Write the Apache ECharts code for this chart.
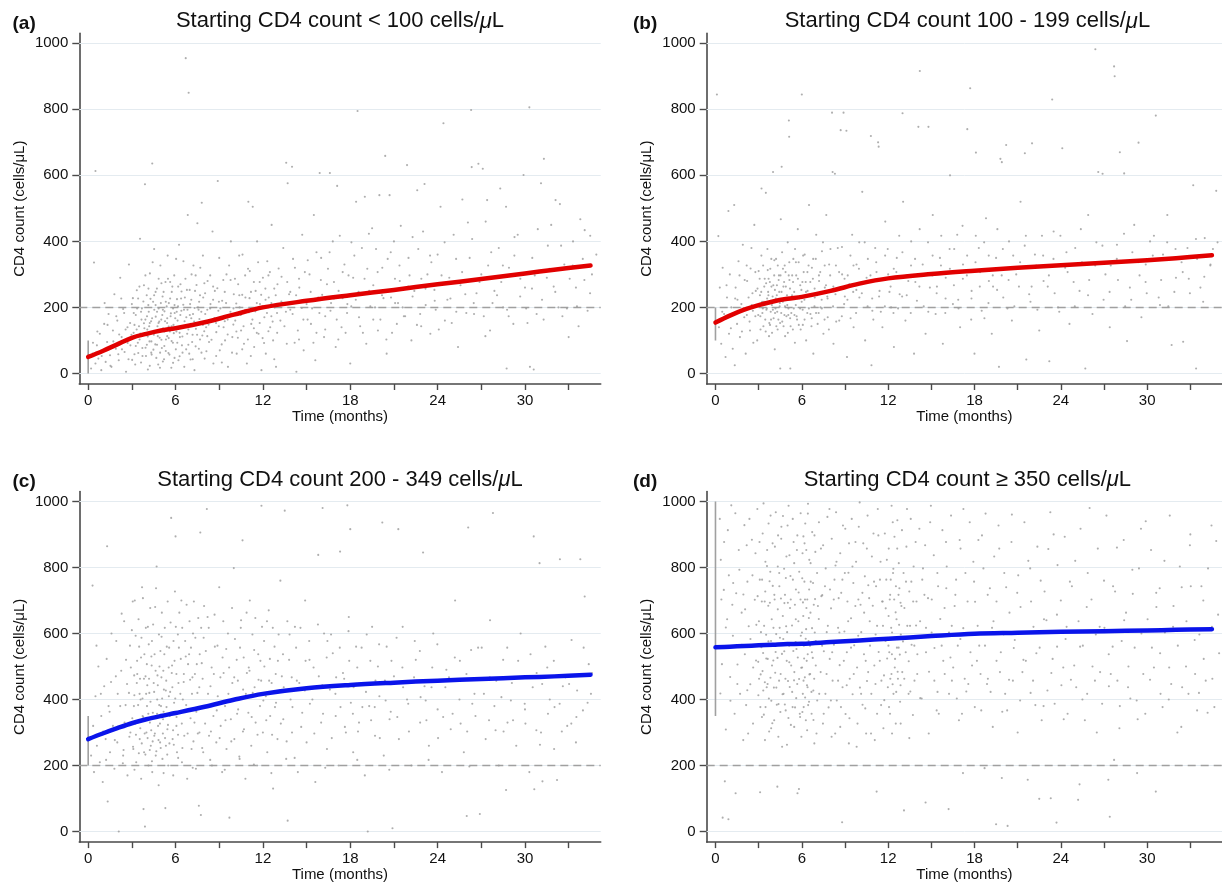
<!DOCTYPE html>
<html>
<head>
<meta charset="utf-8">
<script src="https://cdn.jsdelivr.net/npm/echarts@6/dist/echarts.min.js"></script>
<style>html,body{margin:0;padding:0;background:#fff}#c{width:1222px;height:884px}</style>
</head>
<body>
<div id="c"></div>
<script>
// ---------- DATA ----------
const panelLabels = ['(a)', '(b)', '(c)', '(d)'];
const titleHead = ['Starting CD4 count < 100 cells/', 'Starting CD4 count 100 - 199 cells/', 'Starting CD4 count 200 - 349 cells/', 'Starting CD4 count \u2265 350 cells/'];
const xTickLabels = [0, 6, 12, 18, 24, 30];
const xTickMarks = [0, 3, 6, 9, 12, 15, 18, 21, 24, 27, 30, 33];
const yTickLabels = [0, 200, 400, 600, 800, 1000];
const threshold = 200;
const baselineRanges = [[0, 100], [100, 200], [200, 350], [350, 1000]];

const fitMonths = [0, 1, 2, 3, 4, 5, 6, 8, 10, 12, 15, 18, 21, 24, 27, 30, 32, 34.5];
const fitA = [50, 68, 88, 108, 120, 130, 137, 155, 178, 200, 220, 237, 253, 270, 286, 303, 314, 327];
const fitB = [154, 175, 193, 207, 218, 226, 232, 250, 272, 288, 301, 311, 320, 328, 335, 343, 349, 358];
const fitC = [280, 297, 313, 328, 340, 350, 359, 378, 399, 417, 434, 444, 451, 457, 462, 467, 470, 475];
const fitD = [558, 560, 562, 564, 566, 568, 569, 574, 579, 584, 592, 599, 602, 605, 607, 609, 611, 613];

const pointsA = [[0.2,15],[0.3,60],[0.4,336],[0.5,613],[0.5,30],[0.6,85],[0.7,45],[0.8,120],[0.9,10],[1.0,70],[1.1,150],[1.2,35],[1.3,95],[1.4,180],[1.5,55],[1.6,20],[1.7,130],[1.8,240],[1.9,75],[2.0,160],[2.1,40],[2.2,290],[2.3,110],[2.4,195],[2.5,65],[2.6,5],[2.7,140],[2.8,330],[2.9,85],[3.0,210],
[3.12,123],[3.18,58],[3.27,177],[3.34,252],[3.41,93],[3.49,143],[3.56,408],[3.63,33],[3.69,197],[3.77,117],[3.83,152],[3.9,573],[3.94,78],[4.02,237],[4.06,133],[4.1,12],[4.16,187],[4.21,97],[4.24,303],[4.32,158],[4.36,57],[4.4,636],[4.46,217],[4.51,117],[4.53,377],[4.61,88],[4.64,172],[4.72,257],[4.76,143],[4.81,27],[4.84,197],[4.91,108],[4.96,327],[5.02,163],[5.06,77],[5.11,233],[5.14,137],[5.21,43],[5.24,188],[5.31,277],[5.34,103],[5.42,153],[5.46,357],[5.51,62],[5.54,213],[5.61,127],[5.66,173],[5.71,17],[5.74,247],[5.82,93],[5.86,147],[5.91,297],[5.94,183],[6.02,73],[6.06,127],
[6.1,225],[6.14,160],[6.2,40],[6.24,390],[6.3,110],[6.34,270],[6.4,190],[6.44,85],[6.5,140],[6.54,340],[6.6,20],[6.64,230],[6.7,955],[6.74,170],[6.8,120],[6.84,480],[6.9,850],[6.94,60],[7.0,210],[7.04,150],[7.1,300],[7.14,95],[7.2,180],[7.3,10],[7.34,250],[7.4,135],[7.5,455],[7.54,200],[7.6,75],[7.64,165],[7.7,320],[7.8,517],[7.84,115],[7.9,230],[8.0,45],[8.04,180],[8.1,140],[8.2,280],[8.3,95],[8.4,210],[8.5,160],[8.54,430],[8.6,30],[8.7,250],[8.8,125],[8.9,583],[8.94,190],[9.0,350],[9.04,70],
[9.2,220],[9.3,140],[9.4,100],[9.5,300],[9.6,20],[9.7,175],[9.8,400],[9.9,110],[10.0,240],[10.1,160],[10.2,60],[10.3,270],[10.4,200],[10.5,130],[10.6,360],[10.7,90],[10.8,230],[10.9,30],[11.0,520],[11.04,185],[11.1,310],[11.2,150],[11.3,505],[11.4,80],[11.5,250],[11.6,400],[11.7,120],[11.8,210],[11.9,10],[12.0,290],[12.1,170],[12.2,60],[12.3,340],[12.4,230],[12.5,140],[12.6,450],[12.7,100],[12.8,200],[12.9,20],[13.0,270],
[13.2,160],[13.4,380],[13.6,638],[13.64,90],[13.7,576],[13.8,240],[14.0,626],[14.04,180],[14.2,320],[14.3,5],[14.4,130],[14.5,260],[14.7,420],[14.8,70],[15.0,210],[15.2,300],[15.3,150],[15.5,480],[15.6,40],[15.8,230],[15.9,607],[16.0,350],[16.2,110],[16.4,270],[16.6,607],[16.64,190],[16.8,400],[17.0,80],[17.1,568],[17.2,250],[17.4,140],[17.6,330],[17.8,210],[18.0,30],
[18.2,290],[18.4,520],[18.5,795],[18.6,170],[18.8,380],[19.0,535],[19.1,90],[19.3,250],[19.5,440],[19.7,200],[19.9,130],[20.0,540],[20.2,320],[20.4,659],[20.5,60],[20.7,540],[20.8,230],[21.0,400],[21.2,150],[21.4,280],[21.6,200],[21.9,631],[22.0,350],[22.2,100],[22.4,250],[22.6,555],[22.8,180],[23.0,430],[23.1,574],[23.3,300],[23.5,120],[23.8,220],[24.0,360],
[24.2,505],[24.4,758],[24.5,160],[24.8,290],[25.1,420],[25.4,80],[25.7,527],[25.9,240],[26.2,350],[26.3,798],[26.34,625],[26.5,180],[26.8,635],[27.0,300],[27.1,620],[27.3,460],[27.4,525],[27.6,130],[27.9,250],[28.2,380],[28.3,560],[28.5,200],[28.7,505],[28.74,15],[28.9,320],[29.2,150],[29.5,420],[29.9,601],[30.0,260],[30.3,806],[30.34,20],[30.5,350],[30.6,12],[30.8,180],[31.1,576],[31.3,650],[31.5,290],[31.8,450],[32.1,525],[32.3,200],[32.4,513],[32.7,330],[33.0,110],[33.3,400],[33.5,260],[33.8,467],[34.1,434],[34.3,190],[34.6,300],[34.9,360]];

const pointsA2 = [[2.13,118],[2.32,73],[2.47,183],[2.71,92],[2.88,153],[3.02,41],[3.07,228],[3.18,147],[3.27,83],[3.36,197],[3.44,62],[3.52,263],[3.58,121],[3.66,163],[3.72,77],[3.79,218],[3.86,137],[3.93,297],[3.97,53],[4.04,173],[4.09,112],[4.14,257],[4.19,143],[4.23,23],[4.28,226],[4.34,97],[4.39,167],[4.43,337],[4.48,72],[4.54,193],[4.59,128],[4.63,247],[4.68,47],[4.73,187],[4.78,113],[4.84,287],[4.88,157],[4.94,63],[4.99,213],[5.03,102],[5.09,177],[5.13,36],[5.18,247],[5.23,127],[5.28,158],[5.33,68],[5.39,203],[5.43,113],[5.48,287],[5.53,142],[5.58,57],[5.63,227],[5.68,182],[5.73,98],[5.78,263],[5.83,32],[5.88,122],[5.93,207],[5.98,167],[6.04,347],[6.12,93],[6.17,203],[6.23,138],[6.28,52],[6.33,177],[6.41,248],[6.47,112],[6.53,208],[6.62,158],[6.68,287],[6.73,73],[6.82,193],[6.88,133],[6.97,253],[7.03,42],[7.08,167],[7.17,117],[7.23,327],[7.31,198],[7.38,82],[7.44,268],[7.52,152],[7.62,217],[7.68,103],[7.77,187],[7.88,357],[7.97,128],[8.03,243],[8.12,67],[8.18,193],[8.27,148],[8.38,297],[8.47,102],[8.58,223],[8.68,168],[8.79,53],[8.87,258],[8.97,143],[9.08,197],[9.17,88],[9.28,283],[9.38,158],[9.47,213],[9.58,118],[9.68,327],[9.77,187],[9.88,63],[9.97,148],[10.08,287],[10.17,212],[10.28,108],[10.37,357],[10.48,177],[10.58,238],[10.67,143],[10.78,297],[10.88,193],[10.97,103],[11.08,228],[11.17,53],[11.28,163],[11.38,277],[11.48,188],[11.58,123],[11.67,337],[11.78,153],[11.88,238],[11.97,203],[12.08,92],[12.17,257],[12.28,183],[12.38,128],[12.48,307],[12.58,213],[12.67,157],[12.78,43],[12.88,237],[12.97,183],[13.08,318],[13.27,218],[13.48,143],[13.67,277],[13.88,193],[14.07,347],[14.28,237],[14.48,103],[14.67,198],[14.88,307],[15.07,163],[15.28,247],[15.47,93],[15.68,367],[15.88,183],[16.07,238],[16.28,133],[16.47,317],[16.68,213],[16.88,277],[17.07,163],[17.28,417],[17.47,228],[17.68,123],[17.88,297],[18.07,203],[18.28,357],[18.57,247],[18.87,123],[19.17,317],[19.38,203],[19.58,267],[19.77,377],[20.07,163],[20.28,228],[20.57,347],[20.87,123],[21.07,287],[21.28,213],[21.47,447],[21.77,173],[22.07,297],[22.28,233],[22.67,377],[22.87,143],[23.17,257],[23.57,337],[23.87,193],[24.27,297],[24.67,223],[24.97,153],[25.27,347],[25.57,267],[25.97,183],[26.37,407],[26.67,243],[27.17,173],[27.47,327],[27.77,213],[28.37,277],[28.77,193],[29.27,357],[29.67,233],[30.17,153],[30.67,297],[31.17,223],[31.57,387],[31.97,263],[32.57,173],[33.07,287],[33.57,203],[33.97,347],[34.47,243]];

const pointsA3 = [[0.33,93],[0.63,127],[0.93,53],[1.13,213],[1.33,147],[1.53,23],[1.73,97],[1.93,173],[2.07,58],[2.27,227],[2.57,133],[2.77,43],[2.97,117],[3.13,183],[3.23,27],[3.33,133],[3.43,227],[3.53,103],[3.63,187],[3.73,53],[3.83,267],[3.93,163],[4.03,87],[4.13,207],[4.23,153],[4.33,63],[4.43,123],[4.53,237],[4.63,207],[4.73,87],[4.83,153],[4.93,17],[5.03,273],[5.13,193],[5.23,83],[5.33,217],[5.43,167],[5.53,107],[5.63,277],[5.73,143],[5.83,197],[5.93,47],[6.08,187],[6.18,263],[6.28,123],[6.38,227],[6.48,63],[6.58,193],[6.68,143],[6.78,253],[6.88,87],[6.98,177],[7.08,223],[7.18,43],[7.28,157],[7.38,297],[7.48,117],[7.58,193],[7.68,237],[7.78,63],[7.88,147],[7.98,273],[8.18,113],[8.38,197],[8.58,263],[8.78,153],[8.98,217],[9.18,33],[9.38,247],[9.58,163],[9.78,283],[9.98,197],[10.18,127],[10.38,237],[10.58,73],[10.78,193],[10.98,317],[11.18,247],[11.38,137],[11.58,213],[11.78,277],[11.98,107],[12.18,223],[12.38,297],[12.58,173],[12.78,257],[12.98,123],[13.28,293],[13.58,187],[13.88,247],[14.18,93],[14.48,287],[14.78,163],[15.08,343],[15.38,197],[15.68,123],[15.98,283],[16.28,173],[16.58,367],[16.88,227],[17.18,103],[17.48,307],[17.78,183],[18.08,397],[18.38,223],[18.68,143],[18.98,287],[19.28,423],[19.58,163],[19.88,307],[20.18,237],[20.48,103],[20.78,367],[21.08,213],[21.38,327],[21.68,173],[21.98,263],[22.28,413],[22.58,147],[22.88,287],[23.18,207],[23.48,357],[23.78,253],[24.08,133],[24.48,397],[24.88,227],[25.28,187],[25.68,307],[26.08,457],[26.48,213],[26.88,277],[27.28,113],[27.68,367],[28.08,237],[28.48,327],[28.88,173],[29.28,413],[29.68,287],[30.08,197],[30.48,257],[30.88,437],[31.28,163],[31.68,317],[32.08,247],[32.48,387],[32.88,197],[33.28,327],[33.68,143],[34.08,283],[34.48,417]];

const pointsB = [[0.1,845],[0.2,416],[0.24,140],[0.3,260],[0.4,90],[0.5,320],[0.6,180],[0.7,50],[0.8,230],[0.9,492],[0.94,120],[1.0,300],[1.1,200],[1.2,75],[1.3,510],[1.34,25],[1.4,260],[1.5,150],[1.6,340],[1.7,110],[1.8,210],[1.9,390],[2.0,170],[2.1,60],[2.2,280],[2.3,230],[2.4,130],[2.5,380],[2.6,190],[2.7,450],[2.8,250],[2.9,100],[3.0,310],
[3.12,173],[3.2,560],[3.24,217],[3.33,143],[3.42,287],[3.5,547],[3.54,193],[3.61,377],[3.66,247],[3.72,113],[3.81,317],[3.86,163],[3.92,207],[4.0,610],[4.02,267],[4.12,73],[4.14,183],[4.21,347],[4.26,237],[4.32,133],[4.41,297],[4.46,203],[4.5,15],[4.54,467],[4.6,626],[4.64,157],[4.72,263],[4.81,327],[4.84,113],[4.92,223],[5.02,397],[5.06,177],[5.1,766],[5.12,717],[5.14,283],[5.2,15],[5.22,143],[5.32,237],[5.41,347],[5.44,197],[5.52,93],[5.61,297],[5.64,173],[5.72,437],[5.81,227],[5.92,133],[6.0,845],[6.04,277],[6.06,193],
[6.2,360],[6.3,100],[6.4,250],[6.5,510],[6.6,180],[6.7,320],[6.8,60],[6.9,230],[7.0,420],[7.1,150],[7.2,280],[7.3,200],[7.4,370],[7.5,120],[7.6,260],[7.7,480],[7.8,170],[7.9,330],[8.1,790],[8.14,610],[8.2,90],[8.3,605],[8.34,240],[8.5,380],[8.6,160],[8.7,737],[8.8,300],[8.9,790],[8.94,210],[9.1,735],[9.14,50],[9.3,270],[9.5,420],[9.6,140],[9.8,330],[10.0,230],
[10.2,550],[10.4,100],[10.5,290],[10.8,719],[10.84,25],[10.9,190],[11.1,380],[11.3,700],[11.34,687],[11.4,250],[11.6,140],[11.8,460],[12.0,300],[12.2,200],[12.4,80],[12.6,350],[12.8,240],[13.0,788],[13.04,520],[13.2,160],[13.4,280],[13.6,400],[13.8,60],[14.0,220],[14.1,747],[14.2,916],[14.4,330],[14.6,120],[14.8,747],[14.9,260],
[15.1,480],[15.3,180],[15.6,350],[15.8,90],[16.0,290],[16.3,600],[16.5,210],[16.8,420],[17.0,140],[17.2,330],[17.5,740],[17.7,864],[17.8,250],[18.0,60],[18.1,669],[18.3,380],[18.5,190],[18.8,470],[19.0,280],[19.2,120],[19.5,350],[19.7,20],[19.8,650],[19.9,640],[20.0,230],
[20.2,692],[20.4,400],[20.6,160],[20.9,300],[21.2,520],[21.5,667],[21.6,42],[21.8,240],[22.0,697],[22.2,360],[22.5,130],[22.8,280],[23.2,37],[23.4,830],[23.5,430],[23.8,200],[24.1,682],[24.3,320],[24.6,150],[25.0,380],[25.3,250],[25.7,15],[25.9,480],[26.2,180],[26.4,982],[26.6,610],[26.9,605],[27.1,300],[27.4,140],[27.7,930],[27.74,900],[27.9,390],[28.1,670],[28.4,606],[28.6,98],[28.8,260],[29.1,450],[29.4,699],[29.6,170],[29.9,330],[30.2,400],[30.6,781],[30.8,230],[31.1,360],[31.4,480],[31.7,86],[32.0,290],[32.5,96],[32.8,380],[33.2,570],[33.4,15],[33.7,260],[34.0,410],[34.4,330],[34.8,553]];

const pointsB2 = [[1.53,223],[1.84,127],[2.03,283],[2.18,177],[2.44,318],[2.52,207],[2.63,93],[2.77,173],[2.92,257],[3.04,203],[3.07,287],[3.13,133],[3.18,247],[3.26,183],[3.31,327],[3.37,217],[3.46,163],[3.52,273],[3.57,197],[3.63,313],[3.68,237],[3.74,153],[3.78,277],[3.84,187],[3.88,347],[3.93,123],[3.97,233],[4.04,167],[4.08,297],[4.13,253],[4.17,197],[4.23,143],[4.27,267],[4.33,327],[4.37,163],[4.43,247],[4.47,213],[4.52,297],[4.57,183],[4.63,367],[4.68,217],[4.73,143],[4.77,277],[4.83,203],[4.87,307],[4.93,173],[4.97,237],[5.03,123],[5.07,197],[5.13,337],[5.18,257],[5.27,183],[5.33,297],[5.38,133],[5.47,247],[5.53,377],[5.58,207],[5.67,163],[5.73,287],[5.78,337],[5.88,197],[5.97,253],[6.07,147],[6.13,307],[6.18,223],[6.27,277],[6.38,183],[6.47,327],[6.58,237],[6.67,143],[6.77,287],[6.88,203],[6.97,347],[7.07,237],[7.17,183],[7.28,307],[7.38,223],[7.47,397],[7.58,163],[7.68,267],[7.77,233],[7.88,133],[7.97,297],[8.17,203],[8.37,327],[8.57,253],[8.78,173],[8.97,287],[9.17,223],[9.38,357],[9.57,247],[9.77,183],[9.97,317],[10.17,243],[10.37,397],[10.57,203],[10.77,297],[10.97,163],[11.17,337],[11.37,233],[11.57,287],[11.77,203],[11.97,377],[12.17,263],[12.37,183],[12.57,307],[12.77,417],[12.97,233],[13.27,297],[13.57,183],[13.87,347],[14.17,263],[14.47,203],[14.77,397],[15.07,297],[15.37,243],[15.67,327],[15.97,183],[16.27,377],[16.57,267],[16.87,223],[17.17,447],[17.47,297],[17.77,163],[18.07,337],[18.37,263],[18.67,397],[18.97,213],[19.27,297],[19.57,253],[19.97,377],[20.37,283],[20.77,203],[21.17,337],[21.57,417],[21.97,263],[22.37,193],[22.77,357],[23.17,297],[23.57,243],[23.97,417],[24.47,307],[24.97,203],[25.47,337],[25.97,283],[26.47,397],[26.97,223],[27.47,327],[27.97,283],[28.47,203],[28.97,367],[29.47,297],[29.97,243],[30.47,417],[30.97,283],[31.47,203],[31.97,377],[32.47,307],[32.97,243],[33.47,347],[33.97,293],[34.57,377]];

const pointsB3 = [[0.47,187],[0.77,267],[1.07,137],[1.37,227],[1.67,297],[1.97,197],[2.17,327],[2.37,157],[2.57,243],[2.77,307],[2.97,177],[3.09,237],[3.19,357],[3.29,197],[3.39,263],[3.49,127],[3.59,227],[3.69,287],[3.79,147],[3.89,263],[3.99,193],[4.09,343],[4.19,227],[4.29,187],[4.39,283],[4.49,153],[4.59,247],[4.69,317],[4.79,177],[4.89,263],[4.99,207],[5.09,297],[5.19,167],[5.29,227],[5.39,277],[5.49,177],[5.59,337],[5.69,227],[5.79,147],[5.89,267],[5.99,217],[6.09,357],[6.19,163],[6.29,247],[6.39,307],[6.49,197],[6.59,277],[6.69,167],[6.79,347],[6.89,257],[6.99,183],[7.19,297],[7.39,197],[7.59,327],[7.79,227],[7.99,377],[8.19,263],[8.39,157],[8.59,307],[8.79,383],[8.99,233],[9.19,297],[9.39,167],[9.59,327],[9.79,253],[9.99,397],[10.29,277],[10.59,347],[10.89,227],[11.19,307],[11.49,187],[11.79,357],[12.09,247],[12.39,317],[12.69,197],[12.99,367],[13.29,237],[13.59,327],[13.89,277],[14.19,437],[14.49,297],[14.79,187],[15.09,357],[15.39,263],[15.69,417],[15.99,227],[16.29,317],[16.59,377],[16.89,197],[17.19,287],[17.49,357],[17.79,227],[18.09,417],[18.39,307],[18.69,167],[18.99,357],[19.29,263],[19.59,437],[19.89,297],[20.29,197],[20.69,357],[21.09,263],[21.49,387],[21.89,217],[22.29,327],[22.69,417],[23.09,263],[23.49,347],[23.89,187],[24.39,367],[24.89,277],[25.39,437],[25.89,237],[26.39,327],[26.89,387],[27.39,247],[27.89,347],[28.39,423],[28.89,223],[29.39,337],[29.89,277],[30.39,357],[30.89,207],[31.39,397],[31.89,247],[32.39,337],[32.89,287],[33.39,407],[33.89,217],[34.39,327],[34.89,397]];

const pointsC = [[0.2,230],[0.3,745],[0.34,320],[0.4,180],[0.5,410],[0.6,260],[0.7,500],[0.8,210],[0.9,350],[1.0,150],[1.1,440],[1.2,280],[1.3,864],[1.34,91],[1.4,380],[1.5,240],[1.6,600],[1.7,320],[1.8,190],[1.9,470],[2.0,270],[2.1,0],[2.2,380],[2.3,660],[2.4,230],[2.5,330],[2.6,520],[2.7,170],[2.8,420],[2.9,300],[3.0,610],
[3.1,250],[3.14,380],[3.2,700],[3.3,210],[3.34,450],[3.4,330],[3.5,560],[3.54,280],[3.6,400],[3.64,160],[3.7,740],[3.74,350],[3.8,68],[3.84,240],[3.9,15],[3.94,470],[4.0,300],[4.04,380],[4.1,620],[4.14,200],[4.2,420],[4.24,330],[4.3,260],[4.34,530],[4.4,180],[4.44,360],[4.5,450],[4.54,290],[4.6,680],[4.64,230],[4.7,803],[4.74,400],[4.8,320],[4.84,140],[4.9,500],[4.94,270],[5.0,380],[5.04,590],[5.1,220],[5.14,340],[5.2,430],[5.3,71],[5.34,260],[5.4,560],[5.44,310],[5.5,200],[5.54,410],[5.6,350],[5.7,950],[5.74,480],[5.8,280],[5.84,170],[5.9,390],[6.0,894],[6.02,620],[6.06,320],
[6.1,240],[6.2,450],[6.3,360],[6.4,700],[6.44,210],[6.5,400],[6.6,290],[6.7,530],[6.8,160],[6.9,370],[7.0,460],[7.1,250],[7.2,600],[7.3,330],[7.4,190],[7.5,420],[7.6,78],[7.64,300],[7.7,906],[7.74,50],[7.8,510],[7.9,240],[8.0,380],[8.15,977],[8.2,650],[8.3,290],[8.4,440],[8.5,200],[8.6,350],[8.7,560],[8.8,270],[8.9,410],[9.0,740],[9.1,320],[9.2,180],[9.3,480],[9.4,380],[9.5,250],[9.6,600],[9.7,42],[9.8,340],[9.9,450],[10.0,798],[10.04,280],
[10.2,520],[10.3,370],[10.4,220],[10.5,640],[10.6,882],[10.64,430],[10.7,310],[10.8,160],[10.9,480],[11.0,360],[11.1,700],[11.2,260],[11.3,420],[11.4,550],[11.5,330],[11.6,200],[11.7,460],[11.8,380],[11.9,987],[11.94,620],[12.0,300],[12.1,500],[12.2,410],[12.3,240],[12.4,670],[12.5,350],[12.6,450],[12.7,130],[12.8,560],[12.9,390],[13.0,280],[13.2,760],[13.3,470],[13.4,340],[13.5,972],[13.6,220],[13.7,33],[13.8,520],[13.9,400],[14.0,300],
[14.2,620],[14.4,180],[14.5,450],[14.7,360],[14.9,700],[15.0,270],[15.2,520],[15.4,400],[15.6,150],[15.8,838],[15.84,470],[16.0,330],[16.1,980],[16.2,600],[16.4,250],[16.6,430],[16.8,540],[17.0,350],[17.2,200],[17.3,848],[17.5,480],[17.7,300],[17.8,988],[17.9,650],[18.0,916],[18.04,390],[18.2,240],[18.4,560],[18.6,330],[18.8,450],[19.0,170],[19.2,0],[19.3,380],[19.5,620],[19.7,290],[19.9,500],[20.0,410],
[20.2,936],[20.3,230],[20.5,560],[20.7,340],[20.9,10],[21.0,470],[21.3,916],[21.34,280],[21.6,620],[21.9,400],[22.2,200],[22.5,520],[22.8,330],[23.0,845],[23.1,440],[23.4,260],[23.7,600],[24.0,370],[24.3,180],[24.6,490],[24.9,310],[25.2,700],[25.5,400],[25.8,240],[26.0,47],[26.1,921],[26.3,550],[26.6,350],[26.9,53],[27.0,460],[27.3,280],[27.6,640],[27.8,965],[27.9,380],[28.2,200],[28.5,520],[28.7,126],[28.8,330],[29.1,450],[29.4,260],[29.7,600],[30.0,370],[30.3,180],[30.6,894],[30.64,128],[30.8,480],[31.0,813],[31.1,300],[31.2,152],[31.4,560],[31.7,400],[32.0,250],[32.2,156],[32.4,825],[32.6,440],[32.9,320],[33.2,580],[33.5,270],[33.8,825],[34.1,712],[34.3,390],[34.6,480]];

const pointsC2 = [[1.03,303],[1.23,217],[1.47,363],[1.83,277],[2.03,417],[2.17,313],[2.43,247],[2.57,383],[2.83,287],[2.93,497],[3.03,343],[3.08,257],[3.17,413],[3.23,327],[3.28,293],[3.37,477],[3.43,383],[3.48,237],[3.53,417],[3.58,313],[3.63,527],[3.68,267],[3.73,403],[3.78,347],[3.83,463],[3.88,297],[3.93,233],[3.98,417],[4.03,507],[4.08,283],[4.13,357],[4.18,463],[4.23,247],[4.28,393],[4.33,307],[4.38,577],[4.43,273],[4.48,347],[4.53,423],[4.58,297],[4.63,487],[4.68,243],[4.73,357],[4.78,443],[4.83,277],[4.88,383],[4.93,327],[4.98,253],[5.03,467],[5.08,403],[5.13,297],[5.18,363],[5.23,537],[5.28,283],[5.33,427],[5.38,377],[5.43,233],[5.48,323],[5.53,497],[5.58,267],[5.63,423],[5.68,357],[5.78,437],[5.83,307],[5.88,263],[5.93,517],[5.98,403],[6.07,347],[6.17,293],[6.23,557],[6.33,417],[6.43,327],[6.47,253],[6.57,477],[6.73,383],[6.83,297],[6.93,537],[7.03,343],[7.13,417],[7.23,273],[7.33,477],[7.43,363],[7.53,297],[7.63,437],[7.73,377],[7.83,253],[7.93,587],[8.03,327],[8.23,417],[8.43,303],[8.63,477],[8.83,367],[9.03,283],[9.23,527],[9.43,337],[9.63,417],[9.83,273],[10.03,467],[10.23,357],[10.43,557],[10.63,303],[10.83,417],[11.03,497],[11.23,347],[11.43,437],[11.63,293],[11.83,517],[12.03,397],[12.23,337],[12.43,457],[12.63,293],[12.83,377],[13.03,517],[13.23,327],[13.43,437],[13.63,273],[13.83,597],[14.03,377],[14.33,457],[14.63,317],[14.93,517],[15.23,387],[15.53,297],[15.83,437],[16.13,357],[16.43,577],[16.73,283],[17.03,467],[17.33,377],[17.63,317],[17.93,517],[18.23,437],[18.53,303],[18.83,377],[19.13,597],[19.43,337],[19.73,457],[20.03,283],[20.43,397],[20.83,517],[21.23,347],[21.63,437],[22.03,303],[22.43,577],[22.83,407],[23.23,337],[23.63,497],[24.03,283],[24.53,437],[25.03,357],[25.53,517],[26.03,303],[26.53,417],[27.03,557],[27.53,337],[28.03,457],[28.53,303],[29.03,397],[29.53,517],[30.03,327],[30.53,437],[31.03,263],[31.53,497],[32.03,377],[32.53,303],[33.03,447],[33.53,347],[34.03,557],[34.53,417]];

const pointsC3 = [[0.57,563],[0.87,417],[1.27,523],[1.57,453],[1.93,577],[2.27,487],[2.47,637],[2.67,447],[2.87,563],[3.06,697],[3.16,473],[3.26,593],[3.36,517],[3.46,643],[3.56,463],[3.66,587],[3.76,707],[3.86,537],[3.96,617],[4.06,443],[4.16,567],[4.26,677],[4.36,503],[4.46,627],[4.56,537],[4.66,737],[4.76,473],[4.86,597],[4.96,547],[5.06,663],[5.16,487],[5.26,617],[5.36,457],[5.46,697],[5.56,557],[5.66,633],[5.76,503],[5.86,577],[5.96,727],[6.06,477],[6.16,597],[6.26,663],[6.36,523],[6.46,617],[6.56,453],[6.66,577],[6.76,687],[6.86,507],[6.96,637],[7.06,557],[7.16,467],[7.26,697],[7.36,587],[7.46,507],[7.56,647],[7.66,537],[7.76,617],[7.86,463],[7.96,683],[8.08,547],[8.28,617],[8.48,497],[8.68,657],[8.88,563],[9.08,467],[9.28,637],[9.48,553],[9.68,497],[9.88,677],[10.08,583],[10.28,457],[10.48,617],[10.68,527],[10.88,663],[11.08,487],[11.28,597],[11.48,647],[11.68,537],[11.88,457],[12.08,577],[12.28,637],[12.48,523],[12.68,617],[12.88,477],[13.08,597],[13.38,537],[13.68,637],[13.98,467],[14.28,557],[14.58,617],[14.88,427],[15.18,577],[15.48,497],[15.78,627],[16.08,443],[16.38,527],[16.68,597],[16.98,417],[17.28,557],[17.58,463],[17.88,607],[18.18,357],[18.48,497],[18.78,557],[19.08,423],[19.38,517],[19.68,377],[19.98,567],[20.38,457],[20.78,363],[21.18,587],[21.58,497],[21.98,387],[22.38,467],[22.78,547],[23.18,397],[23.58,437],[23.98,567],[24.38,347],[24.78,467],[25.18,527],[25.58,327],[25.98,477],[26.38,387],[26.78,557],[27.18,417],[27.58,467],[27.98,307],[28.38,407],[28.78,557],[29.18,337],[29.58,467],[29.98,387],[30.38,537],[30.78,307],[31.18,447],[31.58,357],[31.98,517],[32.38,387],[32.78,467],[33.18,327],[33.58,427],[33.98,367],[34.38,507],
[2.38,207],[3.18,187],[4.38,213],[5.18,177],[6.18,223],[7.18,193],[8.38,217],[9.38,187],[10.38,227],[11.38,203],[12.58,177],[14.18,223],[16.28,193],[18.48,217],[20.68,187],[23.38,217],[26.18,197]];

const pointsD = [[0.3,947],[0.34,418],[0.41,703],[0.5,42],[0.53,562],[0.6,877],[0.65,152],[0.72,309],[0.81,643],[0.9,37],[0.93,776],[1.02,468],[1.1,988],[1.21,593],[1.33,357],[1.4,116],[1.44,722],[1.53,506],[1.62,853],[1.71,417],[1.82,663],[1.93,277],[2.01,928],[2.04,537],[2.13,383],[2.22,757],[2.31,622],[2.42,446],[2.53,884],[2.61,327],[2.73,702],[2.82,518],[2.91,977],[2.98,413],
[3.02,637],[3.1,119],[3.08,763],[3.14,476],[3.19,558],[3.23,347],[3.28,903],[3.32,427],[3.38,623],[3.42,697],[3.48,377],[3.53,524],[3.58,804],[3.62,447],[3.68,576],[3.73,303],[3.78,693],[3.83,957],[3.88,396],[3.93,503],[3.98,744],[4.03,617],[4.08,337],[4.13,863],[4.18,544],[4.23,436],[4.3,136],[4.33,673],[4.38,386],[4.43,783],[4.48,587],[4.53,477],[4.58,923],[4.63,257],[4.68,653],[4.73,417],[4.78,546],[4.83,717],[4.88,367],[4.93,833],[4.98,604],[5.04,456],[5.08,987],[5.13,513],[5.18,677],[5.24,323],[5.28,567],[5.33,423],[5.38,763],[5.43,877],[5.48,483],[5.53,376],[5.58,643],[5.63,553],[5.7,116],[5.68,447],[5.8,129],[5.78,724],[5.88,347],[5.93,593],
[6.02,497],[6.05,843],[6.07,417],[6.1,653],[6.13,377],[6.14,563],[6.18,757],[6.21,467],[6.24,933],[6.28,337],[6.3,613],[6.34,517],[6.38,703],[6.4,437],[6.43,993],[6.47,577],[6.5,393],[6.52,823],[6.58,477],[6.6,663],[6.68,357],[6.7,543],[6.78,753],[6.8,427],[6.88,897],[6.9,603],[6.97,503],[7.02,297],
[7.12,683],[7.21,417],[7.33,857],[7.41,563],[7.52,357],[7.61,743],[7.72,477],[7.81,623],[7.92,977],[8.02,397],[8.11,543],[8.22,703],[8.32,297],[8.41,817],[8.52,457],[8.61,603],[8.72,377],[8.8,28],[8.82,763],[8.92,517],[9.02,917],[9.12,443],[9.22,637],[9.31,343],[9.42,557],[9.52,803],[9.61,477],[9.72,683],[9.81,257],[9.92,593],[10.02,997],[10.12,417],[10.21,723],[10.32,537],[10.41,373],[10.52,857],[10.61,483],[10.72,637],[10.81,297],[10.92,583],[11.02,757],
[11.12,447],[11.2,121],[11.23,623],[11.32,897],[11.42,517],[11.51,383],[11.62,697],[11.71,473],[11.82,577],[11.91,823],[11.98,437],[12.03,653],[12.08,543],[12.13,357],[12.18,763],[12.23,477],[12.27,603],[12.32,937],[12.37,417],[12.42,703],[12.48,523],[12.53,327],[12.58,643],[12.63,857],[12.68,463],[12.73,557],[12.78,737],[12.83,393],[12.88,597],[12.98,483],[13.1,64],[13.13,677],[13.22,543],[13.31,977],[13.42,417],[13.52,623],[13.61,757],[13.72,353],[13.82,563],[13.91,877],[14.02,477],
[14.22,637],[14.33,403],[14.52,717],[14.6,88],[14.63,543],[14.82,297],[14.92,937],[15.02,603],[15.21,457],[15.42,783],[15.52,357],[15.72,563],[15.92,677],[16.02,877],[16.2,68],[16.23,417],[16.42,623],[16.52,497],[16.72,763],[16.92,337],[17.02,583],[17.2,177],[17.23,977],[17.32,463],[17.52,697],[17.72,543],[17.92,817],[18.02,377],[18.22,623],[18.42,477],[18.52,897],[18.7,192],[18.73,563],[18.92,717],[19.12,423],[19.32,637],[19.5,22],[19.53,517],[19.72,857],[19.9,162],[19.93,363],[20.02,597],
[20.2,740],[20.3,17],[20.4,460],[20.6,960],[20.8,580],[21.0,300],[21.2,680],[21.4,520],[21.7,157],[21.74,820],[21.9,420],[22.1,620],[22.3,540],[22.5,99],[22.6,760],[22.8,380],[23.0,640],[23.3,101],[23.34,480],[23.5,900],[23.7,27],[23.74,560],[24.0,700],[24.2,340],[24.4,620],[24.7,460],[25.0,820],[25.2,96],[25.3,143],[25.34,560],[25.5,400],[25.8,680],[26.0,980],[26.2,500],[26.5,300],[26.7,620],[27.0,760],[27.3,157],[27.34,440],[27.4,45],[27.6,560],[27.7,217],[27.9,860],[28.1,380],[28.4,640],[28.7,500],[29.0,720],[29.3,177],[29.34,340],[29.6,600],[29.9,940],[30.2,460],[30.6,121],[30.64,680],[30.9,540],[31.2,820],[31.5,400],[31.8,620],[32.1,300],[32.4,740],[32.7,500],[33.0,900],[33.3,580],[33.6,420],[33.9,700],[34.2,360],[34.5,620],[34.8,880],[35.0,540]];

const pointsD2 = [[0.45,507],[0.72,618],[1.04,396],[1.23,753],[1.52,447],[1.83,566],[2.06,673],[2.21,428],[2.43,583],[2.62,497],[2.84,626],[2.97,514],[3.03,463],[3.12,377],[3.16,604],[3.22,697],[3.27,486],[3.31,541],[3.36,354],[3.43,452],[3.47,817],[3.52,596],[3.56,437],[3.63,523],[3.67,684],[3.71,403],[3.76,758],[3.82,466],[3.86,577],[3.91,643],[3.95,328],[4.02,518],[4.06,436],[4.11,703],[4.15,481],[4.22,598],[4.26,384],[4.31,526],[4.35,897],[4.42,457],[4.46,617],[4.51,362],[4.55,706],[4.62,538],[4.66,416],[4.71,583],[4.77,796],[4.82,385],[4.86,463],[4.91,622],[4.95,517],[5.03,693],[5.07,344],[5.12,563],[5.16,438],[5.21,774],[5.26,503],[5.32,624],[5.36,377],[5.41,547],[5.46,458],[5.52,687],[5.57,574],[5.61,404],[5.66,853],[5.72,527],[5.76,637],[5.81,462],[5.86,357],[5.91,703],[5.96,496],[6.01,603],[6.04,362],[6.08,694],[6.12,457],[6.16,524],[6.19,873],[6.23,406],[6.27,584],[6.32,677],[6.36,443],[6.41,537],[6.44,383],[6.49,647],[6.53,476],[6.57,563],[6.62,757],[6.67,423],[6.71,616],[6.76,526],[6.81,338],[6.86,463],[6.92,704],[6.97,577],[7.07,397],[7.18,644],[7.31,483],[7.42,716],[7.53,546],[7.64,417],[7.73,604],[7.86,376],[7.94,523],[8.03,676],[8.14,457],[8.23,566],[8.34,806],[8.43,397],[8.52,617],[8.63,504],[8.74,723],[8.83,437],[8.96,606],[9.04,356],[9.13,543],[9.24,784],[9.33,463],[9.42,646],[9.53,416],[9.64,564],[9.73,877],[9.84,497],[9.93,703],[10.04,436],[10.13,604],[10.22,384],[10.33,663],[10.44,517],[10.53,456],[10.62,746],[10.74,563],[10.83,417],[10.93,684],[11.04,503],[11.13,597],[11.23,357],[11.34,544],[11.43,763],[11.53,457],[11.64,623],[11.73,398],[11.83,676],[11.93,524],[12.02,563],[12.06,377],[12.11,703],[12.15,463],[12.21,617],[12.26,537],[12.31,446],[12.36,796],[12.41,583],[12.46,497],[12.52,664],[12.56,423],[12.61,557],[12.66,484],[12.72,717],[12.76,626],[12.81,536],[12.86,443],[12.92,683],[13.03,576],[13.12,463],[13.24,757],[13.33,623],[13.43,516],[13.54,424],[13.63,566],[13.74,697],[13.83,457],[13.94,624],[14.03,537],[14.23,404],[14.42,797],[14.63,617],[14.84,484],[15.03,703],[15.22,556],[15.43,423],[15.62,644],[15.83,517],[16.04,737],[16.23,603],[16.43,457],[16.62,683],[16.84,563],[17.03,857],[17.22,616],[17.43,424],[17.62,597],[17.83,503],[18.04,696],[18.33,563],[18.62,797],[18.93,463],[19.22,617],[19.53,697],[19.83,543],[20.13,417],[20.43,663],[20.73,556],[21.04,776],[21.33,483],[21.63,603],[21.93,697],[22.23,383],[22.53,557],[22.83,643],[23.13,856],[23.43,523],[23.73,657],[24.04,443],[24.33,583],[24.63,757],[24.93,503],[25.23,637],[25.53,563],[25.83,417],[26.13,703],[26.43,597],[26.73,483],[27.03,617],[27.33,537],[27.63,743],[27.93,457],[28.23,577],[28.53,663],[28.83,403],[29.13,557],[29.43,797],[29.73,477],[30.03,643],[30.33,557],[30.63,723],[30.93,417],[31.23,603],[31.53,497],[31.83,683],[32.13,563],[32.43,437],[32.73,637],[33.03,743],[33.33,477],[33.63,597],[33.93,523],[34.23,797],[34.53,463],[34.93,657]];

const pointsD3 = [[0.37,823],[0.58,732],[0.86,913],[1.17,687],[1.38,964],[1.66,793],[1.94,718],[2.17,867],[2.36,947],[2.57,776],[2.78,843],[2.93,713],[3.06,877],[3.24,763],[3.34,994],[3.46,727],[3.59,853],[3.69,933],[3.81,787],[3.97,873],[4.09,717],[4.19,967],[4.33,803],[4.44,743],[4.57,887],[4.69,956],[4.79,692],[4.89,768],[5.01,927],[5.14,837],[5.23,703],[5.37,947],[5.47,813],[5.59,733],[5.69,897],[5.82,787],[5.92,964],[6.03,767],[6.11,894],[6.22,703],[6.31,853],[6.42,963],[6.51,733],[6.61,813],[6.72,907],[6.83,687],[6.94,847],[7.06,783],[7.19,937],[7.36,713],[7.48,867],[7.66,797],[7.78,953],[7.96,733],[8.08,887],[8.27,763],[8.38,967],[8.56,707],[8.67,843],[8.86,927],[8.99,783],[9.17,697],[9.28,873],[9.47,947],[9.58,753],[9.77,817],[9.96,923],[10.08,687],[10.27,873],[10.38,773],[10.57,957],[10.68,707],[10.87,833],[10.98,903],[11.16,743],[11.28,977],[11.47,817],[11.58,697],[11.77,903],[11.87,763],[12.04,857],[12.14,717],[12.24,987],[12.34,783],[12.44,893],[12.54,743],[12.64,943],[12.74,813],[12.86,693],[12.96,913],[13.07,783],[13.27,863],[13.47,727],[13.57,947],[13.77,803],[13.97,697],[14.17,917],[14.37,763],[14.57,867],[14.77,707],[14.97,987],[15.17,837],[15.47,743],[15.77,913],[16.07,803],[16.37,957],[16.67,717],[16.97,883],[17.37,783],[17.67,937],[17.97,757],[18.27,883],[18.77,963],[19.07,737],[19.37,833],[19.67,927],[20.07,783],[20.57,877],[20.97,723],[21.47,937],[21.87,797],[22.37,863],[22.87,727],[23.27,967],[23.77,807],[24.27,893],[24.77,743],[25.37,917],[25.87,783],[26.57,857],[27.17,957],[27.77,727],[28.37,883],[28.97,793],[29.57,917],[30.27,853],[30.87,737],[31.57,957],[32.27,803],[32.97,867],[33.77,743],[34.47,927],
[15.37,367],[15.93,477],[16.33,527],[16.77,403],[17.13,357],[17.57,447],[18.17,517],[18.47,367],[18.87,447],[19.27,317],[19.77,483],[20.27,367],[20.67,457],[21.17,397],[21.57,517],[22.07,457],[22.67,337],[23.07,427],[23.57,387],[24.17,497],[24.47,357],[25.07,437],[25.67,337],[26.37,457],[26.87,387],[27.47,477],[28.07,313],[28.67,437],[29.27,397],[29.87,357],[30.47,497],[31.07,377],[31.67,447],[32.37,317],[32.87,417],[33.47,367],[34.07,457],[34.67,377],
[2.27,297],[3.44,277],[3.87,313],[4.37,287],[4.97,263],[5.47,317],[5.97,287],[6.37,307],[6.87,267],[7.47,327],[8.07,287],[8.67,317],[9.27,267],[9.87,327],[10.47,297],[11.07,277],[11.67,313],[12.27,297],[12.87,327],[13.47,283]];

const panelPoints = [pointsA.concat(pointsA2, pointsA3), pointsB.concat(pointsB2, pointsB3), pointsC.concat(pointsC2, pointsC3), pointsD.concat(pointsD2, pointsD3)];
const panelFits = [fitA, fitB, fitC, fitD];
const fitColors = ['#e10000', '#e10000', '#0a14ea', '#0a14ea'];

// ---------- LAYOUT ----------
const FONT = '"Liberation Sans", Arial, Helvetica, sans-serif';
const gridPos = [
  {left: 79.3, top: 33.4},
  {left: 706.7, top: 33.4},
  {left: 79.3, top: 491.5},
  {left: 706.7, top: 491.5}
];
const GW = 521.4, GH = 350.6;
const AXIS_COLOR = '#4a4a4a';

const option = {
  animation: false,
  backgroundColor: '#ffffff',
  textStyle: {fontFamily: FONT},
  grid: [], xAxis: [], yAxis: [], title: [], series: []
};

for (let i = 0; i < 4; i++) {
  const g = gridPos[i];
  option.grid.push({left: g.left, top: g.top, width: GW, height: GH, containLabel: false});
  option.xAxis.push({
    type: 'value', gridIndex: i, min: -0.61, max: 35.2,
    name: 'Time (months)', nameLocation: 'middle', nameGap: 17,
    nameTextStyle: {fontSize: 15, color: '#111', fontFamily: FONT},
    axisLine: {show: true, onZero: false, lineStyle: {color: AXIS_COLOR, width: 1.6}},
    axisTick: {show: true, length: 6, lineStyle: {color: AXIS_COLOR, width: 1.4}, customValues: xTickMarks},
    axisLabel: {fontSize: 15, color: '#111', margin: 9, fontFamily: FONT, customValues: xTickLabels, formatter: v => String(v)},
    splitLine: {show: false}
  });
  option.yAxis.push({
    type: 'value', gridIndex: i, min: -32, max: 1030,
    name: 'CD4 count (cells/\u03BCL)', nameLocation: 'middle', nameGap: 52, nameRotate: 90,
    nameTextStyle: {fontSize: 15, color: '#111', fontFamily: FONT},
    axisLine: {show: true, onZero: false, lineStyle: {color: AXIS_COLOR, width: 1.6}},
    axisTick: {show: true, length: 7, lineStyle: {color: AXIS_COLOR, width: 1.4}, customValues: yTickLabels},
    axisLabel: {fontSize: 15, color: '#111', margin: 11, fontFamily: FONT, customValues: yTickLabels, formatter: v => String(v)},
    splitLine: {show: false}
  });
  option.title.push({
    text: '{n|' + titleHead[i] + '}{i|\u03BC}{n|L}',
    left: g.left + GW / 2, top: g.top - 23, textAlign: 'center', padding: 0,
    textStyle: {fontWeight: 'normal', rich: {
      n: {fontSize: 22, color: '#111', fontFamily: FONT, fontWeight: 'normal'},
      i: {fontSize: 22, color: '#111', fontFamily: FONT, fontStyle: 'italic', fontWeight: 'normal'}
    }}
  });
  option.title.push({
    text: panelLabels[i], left: (i % 2 === 0 ? 12.5 : 633), top: g.top - 19, padding: 0,
    textStyle: {fontSize: 19, fontWeight: 'bold', color: '#111', fontFamily: FONT}
  });

  const gridLines = yTickLabels.map(v => ({yAxis: v, lineStyle: {color: '#e4ebf0', width: 1, type: 'solid'}}));
  option.series.push({
    type: 'scatter', xAxisIndex: i, yAxisIndex: i, silent: true, z: 3,
    symbol: 'circle', symbolSize: 2.1,
    itemStyle: {color: '#9a9a9a'},
    data: panelPoints[i],
    markLine: {
      silent: true, symbol: ['none', 'none'], label: {show: false}, z: 1,
      data: gridLines.concat([{yAxis: threshold, lineStyle: {color: '#a0a0a0', width: 1.4, type: [8, 5]}}])
    }
  });
  option.series.push({
    type: 'line', xAxisIndex: i, yAxisIndex: i, silent: true, z: 4,
    symbol: 'none', lineStyle: {color: '#a0a0a0', width: 1.6},
    data: [[0, baselineRanges[i][0]], [0, baselineRanges[i][1]]]
  });
  option.series.push({
    type: 'line', xAxisIndex: i, yAxisIndex: i, silent: true, z: 5,
    symbol: 'none', smooth: 0.35,
    lineStyle: {color: fitColors[i], width: 4.5, cap: 'round', join: 'round'},
    data: fitMonths.map((m, k) => [m, panelFits[i][k]])
  });
}

const chart = echarts.init(document.getElementById('c'), null, {renderer: 'canvas'});
chart.setOption(option);
</script>
</body>
</html>
